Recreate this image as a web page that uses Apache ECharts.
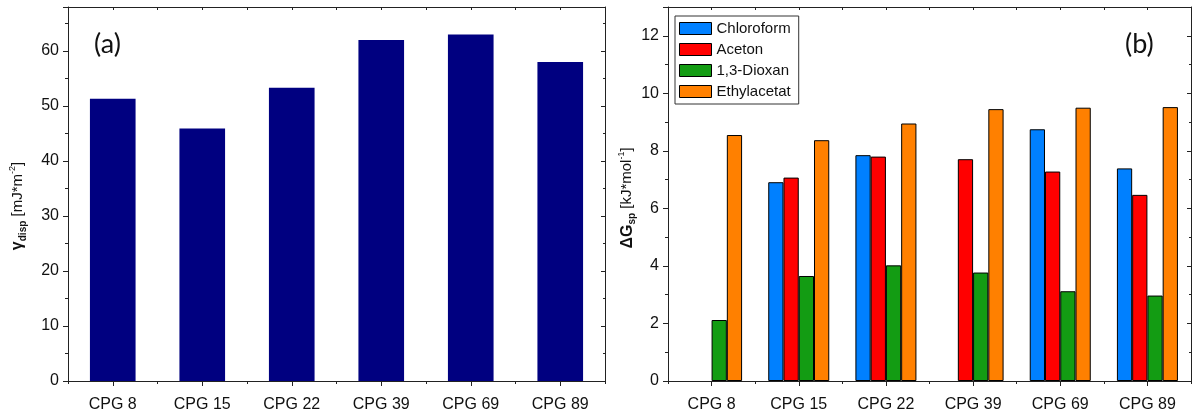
<!DOCTYPE html>
<html>
<head>
<meta charset="utf-8">
<script src="https://cdn.jsdelivr.net/npm/echarts@6/dist/echarts.min.js"></script>
<style>
  html, body { margin: 0; padding: 0; background: #fff; }
  #chart { width: 1193px; height: 417px; }
</style>
</head>
<body>
<div id="chart"></div>
<script>
// Sample labels shared by both panels
const categories = ['CPG 8', 'CPG 15', 'CPG 22', 'CPG 39', 'CPG 69', 'CPG 89'];

// (a) dispersive surface energy, mJ/m²
const gammaDisp = [51.3, 45.9, 53.3, 62.0, 63.0, 58.0];

// (b) specific free energy of adsorption, kJ/mol
const solventNames = ['Chloroform', 'Aceton', '1,3-Dioxan', 'Ethylacetat'];
const chloroform  = [null, 6.91, 7.85, null, 8.75, 7.39];
const aceton      = [null, 7.07, 7.80, 7.71, 7.28, 6.47];
const dioxan      = [2.12, 3.65, 4.02, 3.77, 3.12, 2.97];
const ethylacetat = [8.55, 8.37, 8.95, 9.45, 9.50, 9.52];
const solventColors = ['#0080ff', '#ff0000', '#139c13', '#ff8000'];

const FONT = '"Liberation Sans", Arial, sans-serif';
const AXIS_COLOR = '#222';

// Four x axes per panel: labelled bottom axis with centred ticks, bottom boundary ticks,
// and the mirrored top frame with inward ticks.
function xAxesFor(gridIndex) {
  const base = {
    type: 'category', data: categories, gridIndex,
    axisLine: { onZero: false, lineStyle: { color: AXIS_COLOR, width: 1 } },
    splitLine: { show: false }
  };
  return [
    Object.assign({}, base, {
      position: 'bottom',
      axisTick: { show: true, alignWithLabel: true, length: 5, lineStyle: { color: AXIS_COLOR } },
      axisLabel: { show: true, color: '#111', fontFamily: FONT, fontSize: 16, margin: 16 }
    }),
    Object.assign({}, base, {
      position: 'bottom',
      axisLine: { show: false, onZero: false },
      axisTick: { show: true, length: 3, lineStyle: { color: AXIS_COLOR } },
      axisLabel: { show: false }
    }),
    Object.assign({}, base, {
      position: 'top',
      axisTick: { show: true, inside: true, length: 3, lineStyle: { color: AXIS_COLOR } },
      axisLabel: { show: false }
    }),
    Object.assign({}, base, {
      position: 'top',
      axisLine: { show: false, onZero: false },
      axisTick: { show: true, inside: true, alignWithLabel: true, length: 3, lineStyle: { color: AXIS_COLOR } },
      axisLabel: { show: false }
    })
  ];
}

// Left labelled value axis plus mirrored right frame axis
function yAxesFor(gridIndex, max, interval, name, nameGap, namePadding) {
  const base = {
    type: 'value', gridIndex, min: 0, max, interval,
    axisLine: { show: true, lineStyle: { color: AXIS_COLOR, width: 1 } },
    splitLine: { show: false },
    minorSplitLine: { show: false }
  };
  return [
    Object.assign({}, base, {
      position: 'left',
      axisTick: { show: true, length: 5, lineStyle: { color: AXIS_COLOR } },
      minorTick: { show: true, splitNumber: 2, length: 3, lineStyle: { color: AXIS_COLOR } },
      axisLabel: { show: true, showMaxLabel: false, color: '#111', fontFamily: FONT, fontSize: 16, margin: 9 },
      name,
      nameLocation: 'middle',
      nameRotate: 90,
      nameGap,
      nameTextStyle: {
        color: '#111', fontFamily: FONT, fontSize: 15, lineHeight: 20,
        padding: namePadding,
        rich: {
          b: { fontFamily: FONT, fontSize: 16, fontWeight: 'bold', color: '#111', lineHeight: 20 },
          sub: { fontFamily: FONT, fontSize: 10, fontWeight: 'bold', color: '#111', verticalAlign: 'bottom', lineHeight: 20 },
          sup: { fontFamily: FONT, fontSize: 9, color: '#111', verticalAlign: 'top', lineHeight: 20 }
        }
      }
    }),
    Object.assign({}, base, {
      position: 'right',
      axisTick: { show: true, inside: true, length: 4, lineStyle: { color: AXIS_COLOR } },
      minorTick: { show: true, splitNumber: 2, length: 2, lineStyle: { color: AXIS_COLOR } },
      axisLabel: { show: false }
    })
  ];
}

const chart = echarts.init(document.getElementById('chart'), null, { renderer: 'canvas' });

const solventSeries = [chloroform, aceton, dioxan, ethylacetat].map((values, i) => ({
  name: solventNames[i],
  type: 'bar',
  xAxisIndex: 4,
  yAxisIndex: 2,
  data: values,
  barGap: '0%',
  barCategoryGap: '30%',
  itemStyle: { color: solventColors[i], borderColor: '#000', borderWidth: 1 },
  emphasis: { disabled: true }
}));

chart.setOption({
  animation: false,
  backgroundColor: '#fff',
  textStyle: { fontFamily: FONT },
  title: [
    { text: '(a)', left: 94, top: 31, padding: 0,
      textStyle: { fontFamily: 'Lato, "Open Sans", sans-serif', fontSize: 27, fontWeight: 'normal', color: '#111' } },
    { text: '(b)', left: 1125, top: 31, padding: 0,
      textStyle: { fontFamily: 'Lato, "Open Sans", sans-serif', fontSize: 27, fontWeight: 'normal', color: '#111' } }
  ],
  legend: {
    data: solventNames,
    orient: 'vertical',
    left: 675,
    top: 16,
    padding: [5, 8, 5, 4],
    itemWidth: 32,
    itemHeight: 12,
    itemGap: 6,
    icon: 'rect',
    borderColor: '#333',
    borderWidth: 1,
    backgroundColor: '#fff',
    selectedMode: false,
    itemStyle: { borderColor: '#000', borderWidth: 1 },
    textStyle: { fontFamily: FONT, fontSize: 15, color: '#111', padding: [0, 0, 0, 0] }
  },
  grid: [
    { left: 68, right: 588, top: 7, bottom: 36, outerBoundsMode: 'none', containLabel: false },
    { left: 668, right: 2, top: 7, bottom: 36, outerBoundsMode: 'none', containLabel: false }
  ],
  xAxis: xAxesFor(0).concat(xAxesFor(1)),
  yAxis: yAxesFor(0, 68, 10, '{b|γ}{sub|disp} [mJ*m{sup|-2}]', 40, [0, 24, 0, 0])
    .concat(yAxesFor(1, 13, 2, '{b|ΔG}{sub|sp} [kJ*mol{sup|-1}]', 30, [0, 8, 0, 0])),
  series: [
    {
      name: 'γdisp',
      type: 'bar',
      xAxisIndex: 0,
      yAxisIndex: 0,
      data: gammaDisp,
      barWidth: '51%',
      itemStyle: { color: '#000080' },
      emphasis: { disabled: true }
    }
  ].concat(solventSeries)
});
</script>
</body>
</html>
